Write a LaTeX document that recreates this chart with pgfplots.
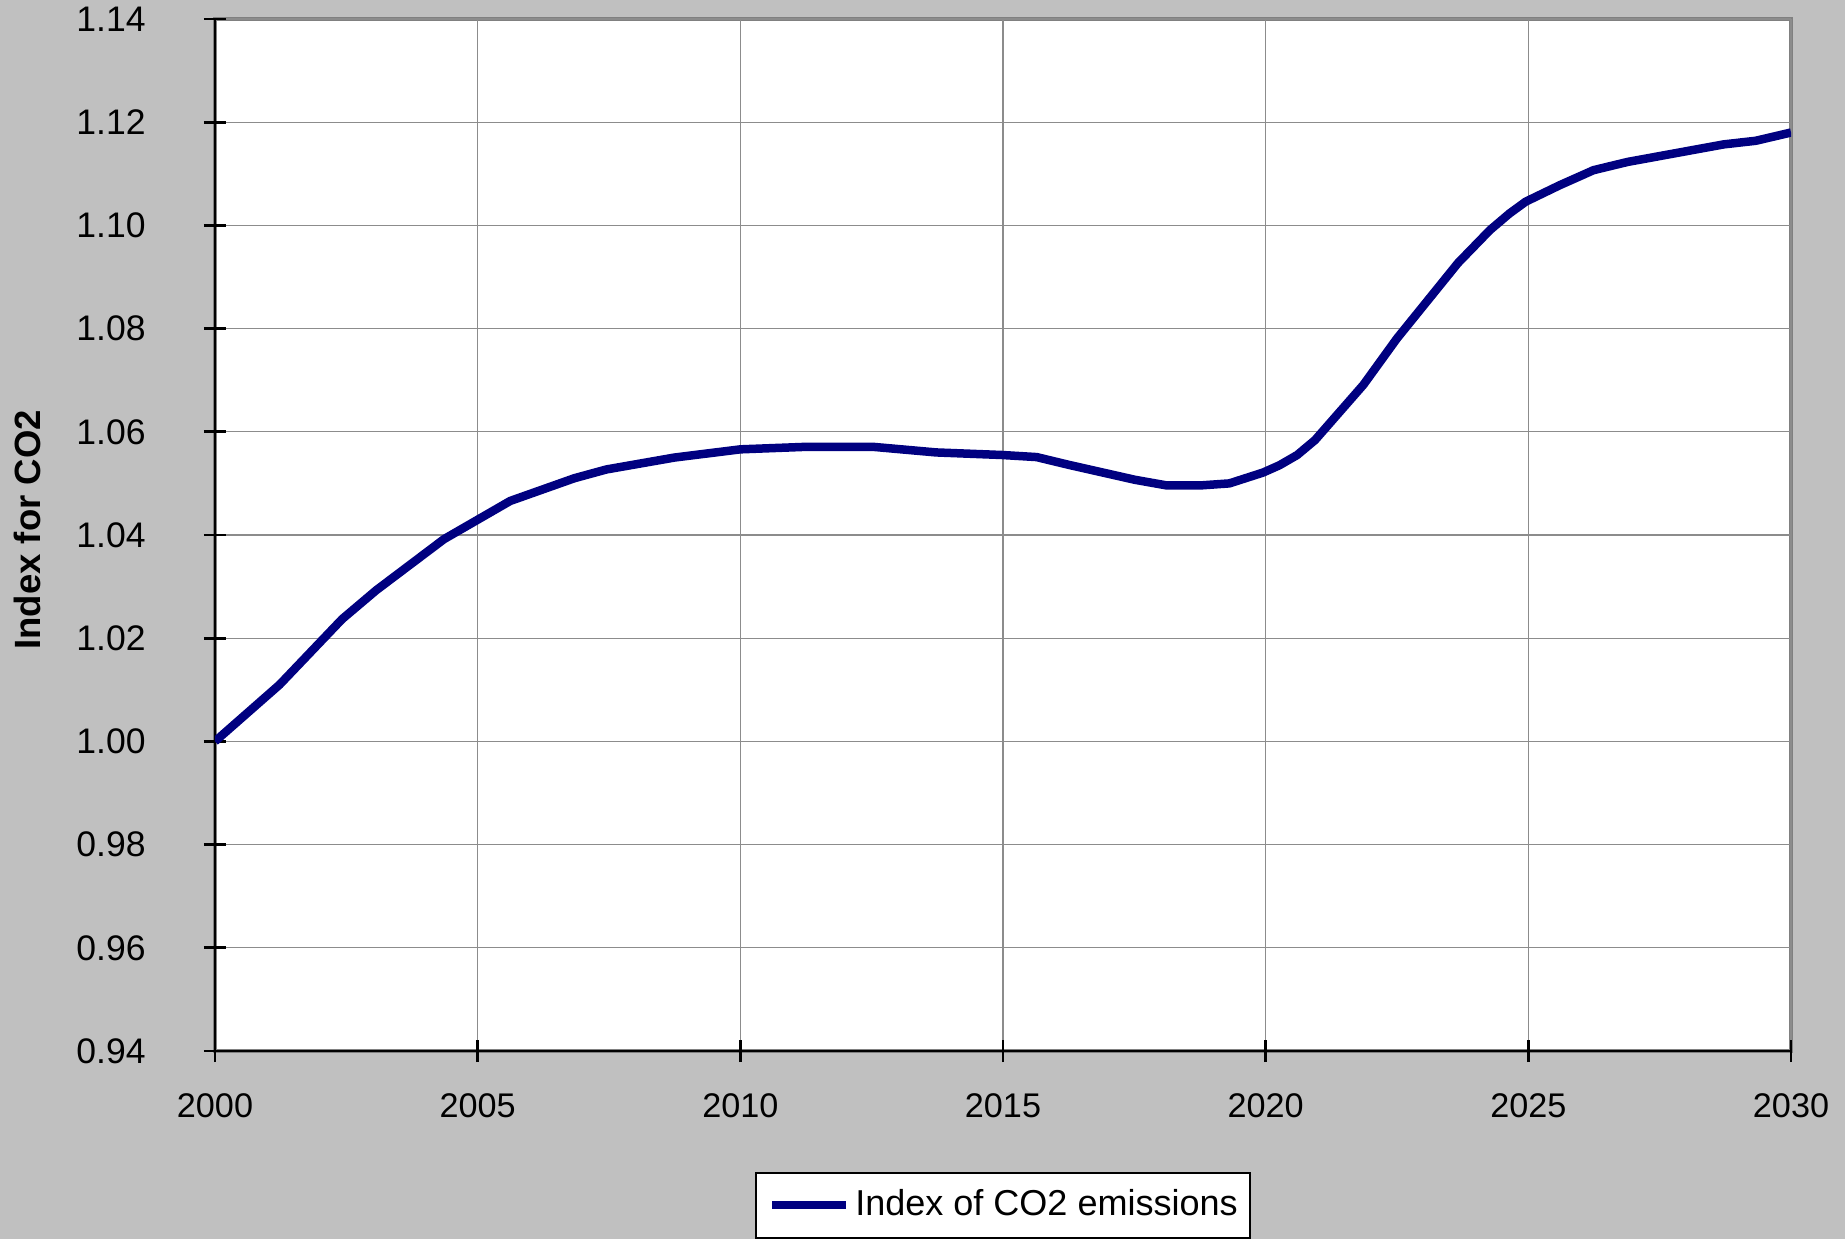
\documentclass[border=0pt]{standalone}
\usepackage{pgfplots}
\pgfplotsset{compat=1.18}
\usepackage{fontspec}
\setmainfont{Liberation Sans}
\definecolor{bggray}{RGB}{192,192,192}
\definecolor{co2blue}{RGB}{0,0,128}

\begin{document}
\begin{tikzpicture}
% grey chart area behind the plot
\fill[bggray] (-64.5bp,-56.4bp) rectangle (489bp,315.3bp);
\begin{axis}[
    at={(0,0)}, anchor=south west,
    scale only axis,
    width=472.8bp, height=309.6bp,
    xmin=2000, xmax=2030,
    ymin=0.94, ymax=1.14,
    xtick={2000,2005,2010,2015,2020,2025,2030},
    ytick={0.94,0.96,0.98,1.00,1.02,1.04,1.06,1.08,1.10,1.12,1.14},
    axis x line*=bottom, axis y line*=left,
    axis background/.style={fill=white, draw=black!50, line width=1bp},
    axis line style={black, line width=0.8bp},
    tick align=center,
    major tick length=6.6bp,
    tick style={black, line width=0.8bp},
    grid=major,
    major grid style={black!45, line width=0.35bp},
    /pgf/number format/assume math mode=true,
    x tick label style={/pgf/number format/1000 sep={}, font=\fontsize{10.3}{12}\selectfont, yshift=-6bp},
    y tick label style={/pgf/number format/.cd, fixed, fixed zerofill, precision=2, /tikz/.cd, font=\fontsize{10.7}{12}\selectfont, xshift=-14bp},
    ylabel={\textbf{Index for CO2}},
    ylabel style={at={(axis description cs:-0.1187,0.505)}, anchor=center, font=\fontsize{11}{13}\selectfont},
    legend style={at={(0.5,-0.1172)}, anchor=north, draw=black, line width=0.6bp, fill=white,
        font=\fontsize{10.85}{13}\selectfont, inner xsep=3.8bp, inner ysep=4.2bp,
        nodes={inner sep=0bp, text height=8.5bp, text depth=2.5bp}, column sep=1.6bp},
    legend cell align=left,
    legend image code/.code={\draw[co2blue, line width=2.5bp] (0bp,0bp) -- (22bp,0bp);},
]
\addplot[co2blue, line width=2.55bp, line join=round] coordinates {
(2000,1.000) (2001.23,1.011) (2002.42,1.0237) (2003.07,1.0293)
(2004.36,1.0392) (2005.62,1.0466) (2006.84,1.0510) (2007.45,1.0527)
(2008.74,1.0550) (2010.0,1.0566) (2011.29,1.0571) (2012.51,1.0571)
(2013.73,1.0560) (2014.99,1.0555) (2015.64,1.0551) (2016.25,1.0536)
(2017.51,1.0507) (2018.12,1.0496) (2018.75,1.0496) (2019.31,1.0500)
(2019.95,1.0521) (2020.26,1.0535) (2020.6,1.0555) (2020.94,1.0584)
(2021.86,1.0691) (2022.5,1.0781) (2023.66,1.0927) (2024.27,1.0991)
(2024.64,1.1023) (2024.95,1.1046) (2025.6,1.1078) (2026.24,1.1107)
(2026.89,1.1123) (2028.72,1.1157) (2029.33,1.1164) (2030,1.1180)
};
\addlegendentry{Index of CO2 emissions}
\end{axis}
\pgfresetboundingbox
\useasboundingbox (-64.5bp,-56.4bp) rectangle (489bp,315.3bp);
\end{tikzpicture}
\end{document}
